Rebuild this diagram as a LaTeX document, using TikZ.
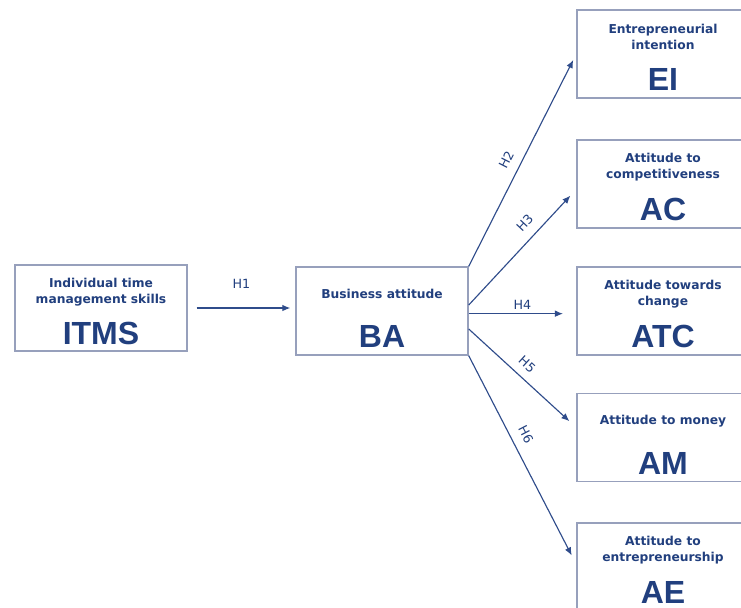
\documentclass[tikz,border=0pt]{standalone}
\usepackage{fontspec}
\setmainfont{DejaVu Sans}
\newfontfamily\abbrfont{Liberation Sans}
\usepackage{xcolor}
\usetikzlibrary{arrows.meta,positioning}
\definecolor{Navy}{HTML}{213F7E}
\definecolor{Frame}{HTML}{97A0BC}
\definecolor{Link}{HTML}{2F4C8B}

\begin{document}
\begin{tikzpicture}[
  x=0.75pt, y=-0.75pt,
  box/.style={draw=Frame, line width=1.1pt, fill=white, minimum width=129pt, minimum height=66pt, inner sep=0pt},
  title/.style={text=Navy, font=\bfseries\fontsize{9.2}{12}\selectfont, align=center, inner sep=0pt},
  abbr/.style={text=Navy, font=\abbrfont\bfseries\fontsize{24}{24}\selectfont, inner sep=0pt},
  arrow/.style={-{Latex[length=6pt,width=5pt]}, line width=0.85pt, draw=Link},
  hyp/.style={text=Navy, font=\fontsize{9.5}{11}\selectfont, inner sep=2pt}
]
\useasboundingbox[fill=white] (0,0) rectangle (741,607);
% predictor and mediator
\node[box, minimum height=64.5pt] (ITMS) at (101,308) {};
\node[title] at ([yshift=-21pt]ITMS.north) {Individual time\\management skills};
\node[abbr] at ([yshift=-52pt]ITMS.north) {ITMS};
\node[box] (BA) at (382,311) {};
\node[title] at ([yshift=-21pt]BA.north) {Business attitude};
\node[abbr] at ([yshift=-53pt]BA.north) {BA};
% outcomes
\node[box] (EI) at (663,54) {};
\node[title] at ([yshift=-21pt]EI.north) {Entrepreneurial\\intention};
\node[abbr] at ([yshift=-53pt]EI.north) {EI};
\node[box] (AC) at (663,184) {};
\node[title] at ([yshift=-21pt]AC.north) {Attitude to\\competitiveness};
\node[abbr] at ([yshift=-53pt]AC.north) {AC};
\node[box] (ATC) at (663,311) {};
\node[title] at ([yshift=-21pt]ATC.north) {Attitude towards\\change};
\node[abbr] at ([yshift=-53pt]ATC.north) {ATC};
\node[box] (AM) at (663,437.5) {};
\node[title] at ([yshift=-21pt]AM.north) {Attitude to money};
\node[abbr] at ([yshift=-53pt]AM.north) {AM};
\node[box] (AE) at (663,567) {};
\node[title] at ([yshift=-21pt]AE.north) {Attitude to\\entrepreneurship};
\node[abbr] at ([yshift=-53pt]AE.north) {AE};
% hypotheses
\draw[arrow, shorten <=6.75pt, shorten >=3.75pt] (ITMS.east) -- (ITMS.east -| BA.west) node[hyp, midway, above=12pt] {H1};
\draw[arrow, shorten >=5pt] (BA.north east) -- (EI.west) node[hyp, pos=0.47, above=5pt, sloped] {H2};
\draw[arrow, shorten >=6.5pt] ([yshift=4.5pt]BA.east) -- ([yshift=-4pt]AC.west) node[hyp, pos=0.62, above=5pt, sloped] {H3};
\draw[arrow, shorten >=10pt] ([yshift=-2pt]BA.east) -- ([yshift=-2pt]ATC.west) node[hyp, midway, above=1pt] {H4};
\draw[arrow, shorten >=7pt] ([yshift=-13.5pt]BA.east) -- ([yshift=7.5pt]AM.west) node[hyp, pos=0.46, above=4pt, sloped] {H5};
\draw[arrow, shorten >=7.5pt] (BA.south east) -- ([yshift=2pt]AE.west) node[hyp, pos=0.41, above=5pt, sloped] {H6};
\end{tikzpicture}
\end{document}
